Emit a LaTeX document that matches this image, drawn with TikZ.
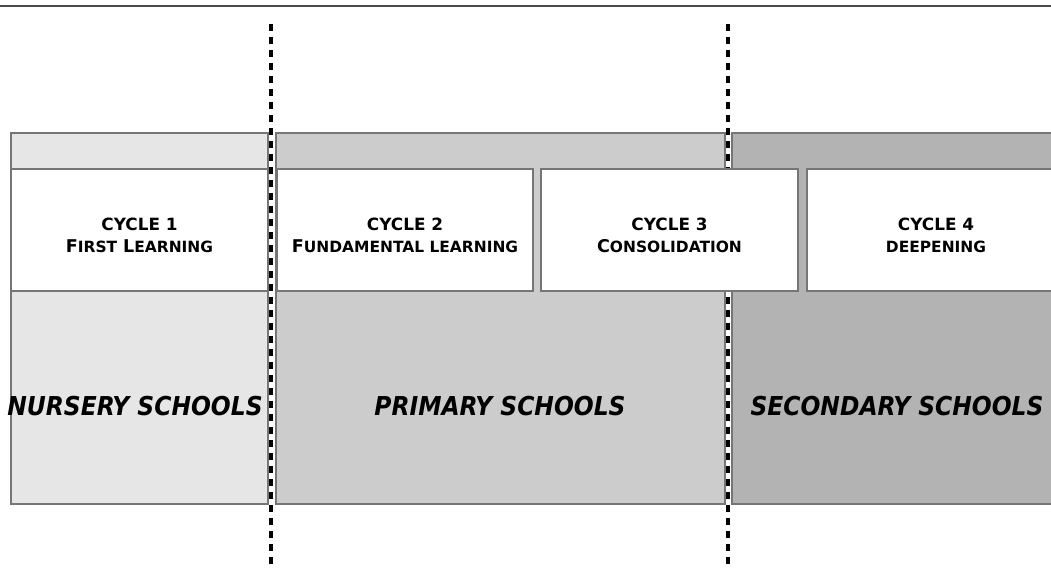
\documentclass[tikz,border=0pt]{standalone}
\usepackage{fontspec}
\usepackage{xcolor}
\usepackage{tikz}
\usetikzlibrary{positioning}
\newfontfamily\cyclefont{DejaVu Sans}
\newfontfamily\schoolfont{DejaVu Sans Condensed Bold Oblique}
\definecolor{nurserygray}{RGB}{230, 230, 230}
\definecolor{primarygray}{RGB}{204, 204, 204}
\definecolor{secondarygray}{RGB}{179, 179, 179}
\definecolor{edgegray}{RGB}{118, 118, 118}
\newcommand{\cyclebig}[1]{{\fontsize{10}{12.5}\selectfont #1}}
\newcommand{\cyclesmall}[1]{{\fontsize{8.8}{12.5}\selectfont #1}}

\begin{document}
\begin{tikzpicture}[
    band/.style={rectangle, draw=edgegray, line width=0.6pt, minimum height=7.42cm, inner sep=0pt},
    cyclebox/.style={rectangle, draw=edgegray, line width=0.6pt, fill=white, minimum height=2.44cm,
                     inner sep=0pt},
    cycletext/.style={align=center, inner sep=0pt, font=\cyclefont\bfseries\fontsize{9.6}{12.5}\selectfont},
    school/.style={font=\schoolfont\fontsize{14.8}{16}\selectfont},
    divider/.style={line width=2pt, dash pattern=on 4pt off 3.4pt}
]
\clip (0,0) rectangle (21.02,11.5);

% Top rule
\coordinate (ruleL) at (0,11.38);
\coordinate (ruleR) at (21.02,11.38);
\draw[black!70, line width=0.85pt] (ruleL) -- (ruleR);

% School bands
\node[band, fill=nurserygray, minimum width=5.14cm] (nursery) at (2.79,5.13) {};
\node[band, fill=primarygray, minimum width=8.98cm] (primary) at (10.01,5.13) {};
\node[band, fill=secondarygray, minimum width=6.76cm] (secondary) at (18.02,5.13) {};

% Dividers
\coordinate (div1top) at (5.42,11.02);
\coordinate (div1bot) at (5.42,0.14);
\coordinate (div2top) at (14.56,11.02);
\coordinate (div2bot) at (14.56,0.14);
\draw[divider] (div1top) -- (div1bot);
\draw[divider] (div2top) -- (div2bot);

% Cycles
\node[cyclebox, minimum width=5.14cm] (cycle1) at (2.79,6.9) {};
\node[cyclebox, minimum width=5.12cm] (cycle2) at (8.1,6.9) {};
\node[cyclebox, minimum width=5.14cm] (cycle3) at (13.39,6.9) {};
\node[cyclebox, minimum width=5.16cm] (cycle4) at (18.72,6.9) {};

\node[cycletext] (cycle1text) at ([yshift=-0.1cm]cycle1.center)
    {CYCLE 1\\\cyclebig{F}\cyclesmall{IRST} \cyclebig{L}\cyclesmall{EARNING}};
\node[cycletext] (cycle2text) at ([yshift=-0.1cm]cycle2.center)
    {CYCLE 2\\\cyclebig{F}\cyclesmall{UNDAMENTAL LEARNING}};
\node[cycletext] (cycle3text) at ([yshift=-0.1cm]cycle3.center)
    {CYCLE 3\\\cyclebig{C}\cyclesmall{ONSOLIDATION}};
\node[cycletext] (cycle4text) at ([yshift=-0.1cm]cycle4.center)
    {CYCLE 4\\\cyclesmall{DEEPENING}};

% School labels
\node[school] (nurserylabel) at (2.7,3.38) {NURSERY SCHOOLS};
\node[school] (primarylabel) at (10.0,3.38) {PRIMARY SCHOOLS};
\node[school] (secondarylabel) at (17.94,3.38) {SECONDARY SCHOOLS};

\end{tikzpicture}
\end{document}
